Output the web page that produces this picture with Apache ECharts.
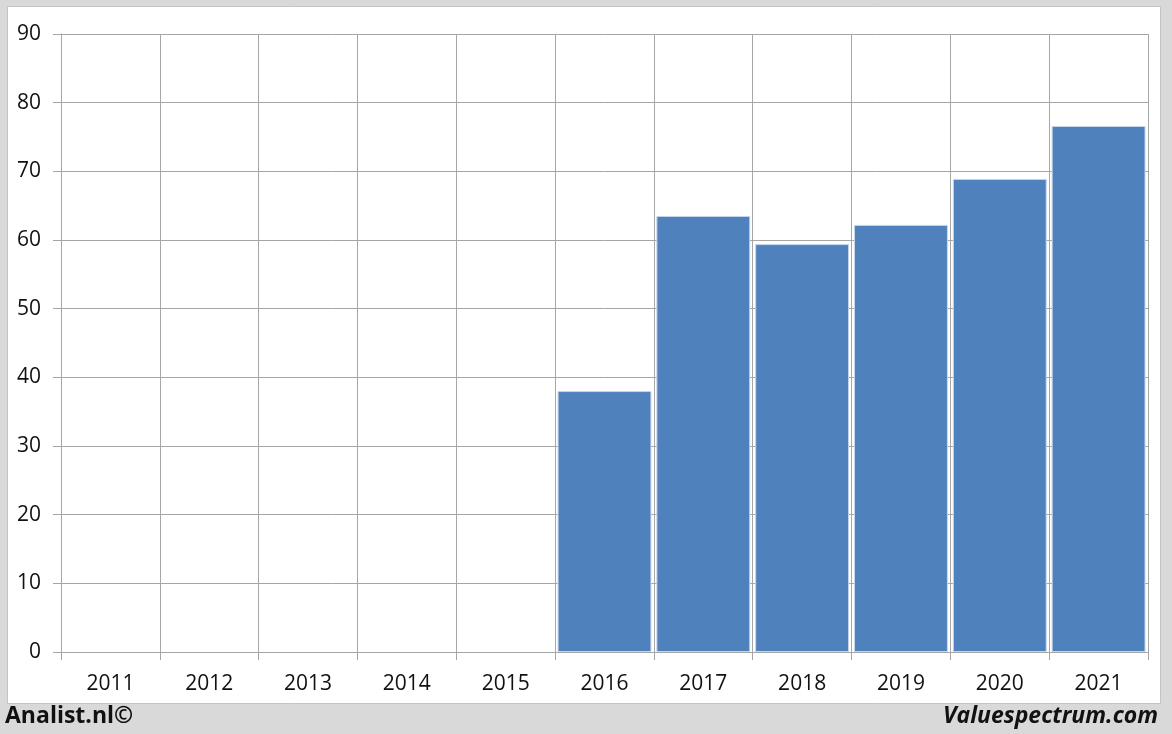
<!DOCTYPE html>
<html>
<head>
<meta charset="utf-8">
<script src="https://cdn.jsdelivr.net/npm/echarts@6/dist/echarts.min.js"></script>
<style>
html,body{margin:0;padding:0;background:#d9d9d9;}
#chart{width:1172px;height:734px;}
</style>
</head>
<body>
<div id="chart"></div>
<script>
const categories = ['2011','2012','2013','2014','2015','2016','2017','2018','2019','2020','2021'];
const values = [null, null, null, null, null, 38.0, 63.5, 59.4, 62.2, 68.9, 76.6];
const yTicks = { min: 0, max: 90, interval: 10 };
const leftCredit = 'Analist.nl©';
const rightCredit = 'Valuespectrum.com';

const chart = echarts.init(document.getElementById('chart'));
const gridColor = '#a6a6a6';
chart.setOption({
  backgroundColor: '#d9d9d9',
  animation: false,
  graphic: [
    { type: 'rect', shape: { x: 7.5, y: 6.5, width: 1153, height: 697 },
      style: { fill: '#ffffff', stroke: '#c4c4c4', lineWidth: 1 }, z: -10 },
    { type: 'text', left: 5, top: 705,
      style: { text: leftCredit, font: 'bold 23px "Open Sans", "DejaVu Sans", sans-serif', fill: '#111111' } },
    { type: 'text', right: 14, top: 705,
      style: { text: rightCredit, font: 'italic bold 23px "Open Sans", "DejaVu Sans", sans-serif', fill: '#111111' } }
  ],
  grid: { left: 61, right: 24, top: 34, bottom: 82, containLabel: false },
  xAxis: {
    type: 'category',
    data: categories,
    boundaryGap: true,
    axisLine: { show: true, lineStyle: { color: gridColor, width: 1 } },
    axisTick: { show: true, length: 8, lineStyle: { color: gridColor } },
    splitLine: { show: true, lineStyle: { color: gridColor, width: 1 } },
    axisLabel: { color: '#111111', fontSize: 21, margin: 22, fontFamily: '"Open Sans", sans-serif' }
  },
  yAxis: {
    type: 'value',
    min: yTicks.min, max: yTicks.max, interval: yTicks.interval,
    axisLine: { show: true, lineStyle: { color: gridColor, width: 1 } },
    axisTick: { show: true, length: 8, lineStyle: { color: gridColor } },
    splitLine: { show: true, lineStyle: { color: gridColor, width: 1 } },
    axisLabel: { color: '#111111', fontSize: 21, margin: 20, fontFamily: '"Open Sans", sans-serif' }
  },
  series: [{
    type: 'bar',
    data: values,
    barCategoryGap: '5%',
    itemStyle: { color: '#4f81bd', borderColor: '#c6d6ea', borderWidth: 1 }
  }]
});
</script>
</body>
</html>
